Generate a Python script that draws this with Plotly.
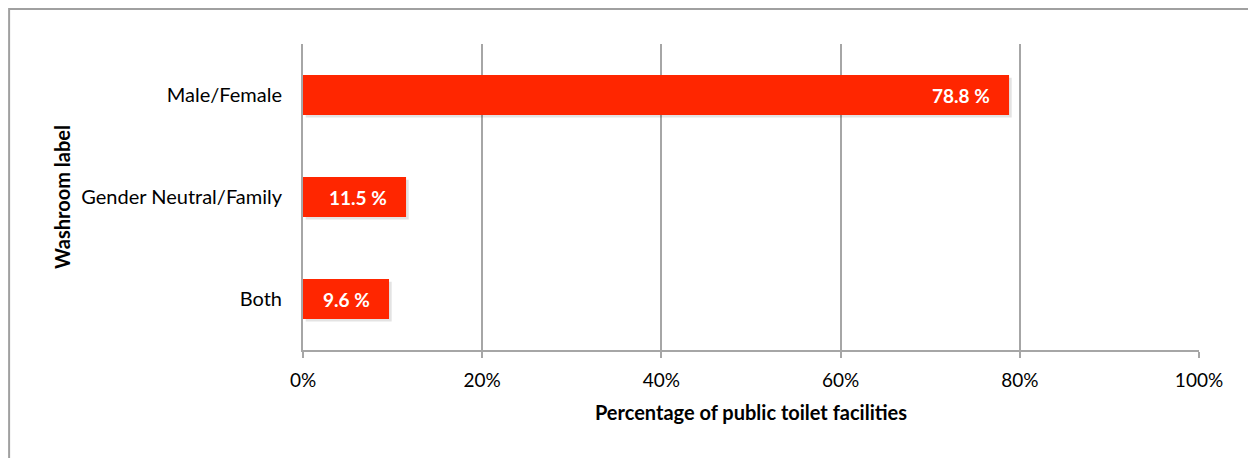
import plotly.graph_objects as go

# Washroom labelling of public toilet facilities
categories = ["Both", "Gender Neutral/Family", "Male/Female"]
shares = [9.6, 11.5, 78.8]
value_labels = ["9.6 %", "11.5 %", "78.8 %"]
x_ticks = [0, 20, 40, 60, 80, 100]
x_tick_text = ["0%", "20%", "40%", "60%", "80%", "100%"]

BAR_RED = "#FF2600"
GRID = "#A6A6A6"
FONT = "Lato, 'Open Sans', sans-serif"
BAR_W = 0.39

fig = go.Figure()

# soft drop shadow under each bar
fig.add_trace(go.Bar(
    y=categories, x=shares, orientation="h",
    base=0.3, width=BAR_W, offset=-BAR_W / 2 - 0.025,
    marker=dict(color="rgba(0,0,0,0.11)", line=dict(width=0)),
    hoverinfo="skip", showlegend=False,
))
fig.add_trace(go.Bar(
    y=categories, x=shares, orientation="h",
    width=BAR_W, offset=-BAR_W / 2,
    marker=dict(color=BAR_RED, line=dict(width=0)),
    showlegend=False,
))

for cat, val, lab in zip(categories, shares, value_labels):
    fig.add_annotation(
        x=val, y=cat, text=f"<b>{lab}</b>", showarrow=False,
        xanchor="right", xshift=-17, yanchor="middle",
        font=dict(family=FONT, size=19, color="white"),
    )

# outer chart frame
fig.add_shape(
    type="rect", xref="paper", yref="paper",
    x0=-0.328, x1=1.2, y0=-0.6, y1=1.114,
    line=dict(color="#A0A0A0", width=2), fillcolor="rgba(0,0,0,0)",
)

fig.update_layout(
    width=1248, height=458,
    margin=dict(l=303, r=49, t=44, b=108),
    paper_bgcolor="white", plot_bgcolor="white",
    barmode="overlay",
    font=dict(family=FONT, size=20, color="#000000"),
    xaxis=dict(
        range=[0, 100], tickvals=x_ticks, ticktext=x_tick_text,
        tickfont=dict(size=19),
        showgrid=True, gridcolor=GRID, gridwidth=2,
        showline=True, linecolor=GRID, linewidth=2,
        ticks="outside", ticklen=6, tickcolor=GRID, tickwidth=2,
        ticklabelstandoff=6,
        zeroline=False, fixedrange=True,
        title=dict(text="<b>Percentage of public toilet facilities</b>",
                   font=dict(family=FONT, size=20), standoff=16),
    ),
    yaxis=dict(
        categoryorder="array", categoryarray=categories,
        tickfont=dict(size=20),
        showgrid=False, showline=True, linecolor=GRID, linewidth=2,
        ticks="", ticklabelstandoff=15, zeroline=False, fixedrange=True,
        title=dict(text="<b>Washroom label</b>",
                   font=dict(family=FONT, size=20), standoff=5),
    ),
)

fig.write_html("out.html")
